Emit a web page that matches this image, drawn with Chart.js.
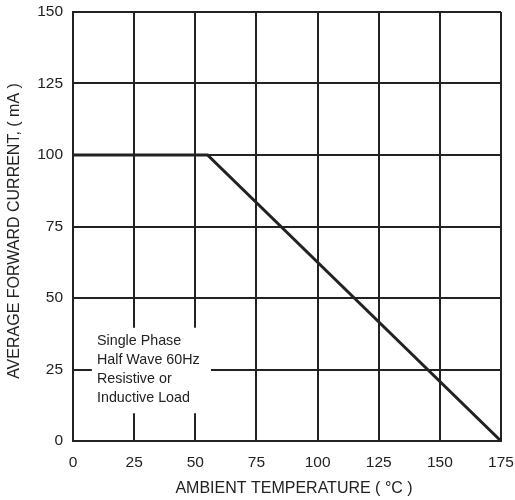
<!DOCTYPE html>
<html><head><meta charset="utf-8">
<script src="https://cdn.jsdelivr.net/npm/chart.js@4/dist/chart.umd.min.js"></script>
<style>html,body{margin:0;padding:0;background:#fff}canvas{display:block}</style>
</head><body>
<canvas id="c" width="515" height="500"></canvas>
<script>
const temperatures = [0, 55, 175];
const currents = [100, 100, 0];
const xTicks = [0, 25, 50, 75, 100, 125, 150, 175];
const yTicks = [0, 25, 50, 75, 100, 125, 150];
const noteLines = ["Single Phase", "Half Wave 60Hz", "Resistive or", "Inductive Load"];
const xTitle = "AMBIENT TEMPERATURE ( \u00B0C )";
const yTitle = "AVERAGE FORWARD CURRENT, ( mA )";

const FONT = "'Liberation Sans', Arial, sans-serif";
const INK = '#222';

const notePlugin = {
  id: 'note',
  beforeDatasetsDraw(chart) {
    const ctx = chart.ctx;
    const xs = chart.scales.x, ys = chart.scales.y;
    ctx.save();
    const x0 = xs.getPixelForValue(7.7), x1 = xs.getPixelForValue(56.4);
    const y0 = ys.getPixelForValue(39.6), y1 = ys.getPixelForValue(9.7);
    ctx.fillStyle = '#fff';
    ctx.fillRect(x0, y0, x1 - x0, y1 - y0);
    ctx.fillStyle = INK;
    ctx.font = '14.3px ' + FONT;
    ctx.textBaseline = 'middle';
    ctx.textAlign = 'left';
    const tx = xs.getPixelForValue(9.8);
    noteLines.forEach((t, i) => ctx.fillText(t, tx, ys.getPixelForValue(34.9 - i * 6.6)));
    ctx.restore();
  },
  afterDraw(chart) {
    const ctx = chart.ctx;
    const xs = chart.scales.x, ys = chart.scales.y;
    ctx.save();
    ctx.fillStyle = INK;
    ctx.font = '16px ' + FONT;
    ctx.textAlign = 'center';
    ctx.textBaseline = 'middle';
    ctx.fillText(xTitle, (xs.left + xs.right) / 2 + 7, xs.bottom - 11);
    ctx.translate(ys.left + 15, (ys.top + ys.bottom) / 2 + 4.5);
    ctx.rotate(-Math.PI / 2);
    ctx.fillText(yTitle, 0, 0);
    ctx.restore();
  }
};

new Chart(document.getElementById('c'), {
  type: 'line',
  data: {
    datasets: [{
      data: temperatures.map((t, i) => ({x: t, y: currents[i]})),
      borderColor: INK,
      borderWidth: 3,
      pointRadius: 0,
      fill: false,
      tension: 0
    }]
  },
  options: {
    responsive: false,
    animation: false,
    devicePixelRatio: 1,
    layout: {padding: {left: 0, top: 12, right: 14, bottom: 0}},
    plugins: {legend: {display: false}, tooltip: {enabled: false}},
    scales: {
      x: {
        type: 'linear', min: 0, max: 175,
        afterBuildTicks: s => { s.ticks = xTicks.map(v => ({value: v})); },
        afterFit: s => { s.height = 59; s.paddingLeft = 0; s.paddingRight = 0; },
        grid: {color: INK, lineWidth: 2, drawTicks: false},
        border: {color: INK, width: 2},
        ticks: {color: INK, font: {size: 15.5, family: FONT}, padding: 12, maxRotation: 0},
        title: {display: false, text: xTitle}
      },
      y: {
        type: 'linear', min: 0, max: 150,
        afterBuildTicks: s => { s.ticks = yTicks.map(v => ({value: v})); },
        afterFit: s => { s.width = 73; s.paddingTop = 0; s.paddingBottom = 0; },
        grid: {color: INK, lineWidth: 2, drawTicks: false},
        border: {color: INK, width: 2},
        ticks: {color: INK, font: {size: 15.5, family: FONT}, padding: 10},
        title: {display: false, text: yTitle}
      }
    }
  },
  plugins: [notePlugin]
});
</script>
</body></html>
